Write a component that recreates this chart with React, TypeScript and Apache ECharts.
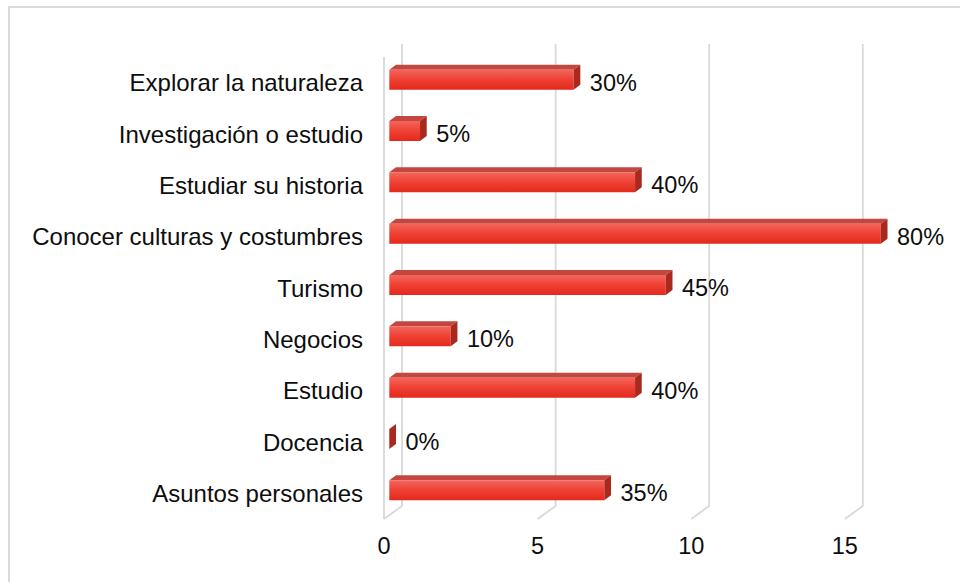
import React, { useEffect, useRef } from "react";
import * as echarts from "echarts";

const categories = [
  "Explorar la naturaleza",
  "Investigación o estudio",
  "Estudiar su historia",
  "Conocer culturas y costumbres",
  "Turismo",
  "Negocios",
  "Estudio",
  "Docencia",
  "Asuntos personales",
];
const values = [6, 1, 8, 16, 9, 2, 8, 0, 7];
const percentLabels = ["30%", "5%", "40%", "80%", "45%", "10%", "40%", "0%", "35%"];
const xTicks = [0, 5, 10, 15];

const FONT = "'Liberation Sans', Arial, sans-serif";

export default function App() {
  const ref = useRef<HTMLDivElement>(null);

  useEffect(() => {
    if (!ref.current) return;
    const chart = echarts.init(ref.current, undefined, { renderer: "svg" });

    // 3D geometry offsets (pixels)
    const backDx = 18;
    const backDy = -13;
    const barDx = 5.3;
    const barDy = -3;
    const barHalf = 10;
    const depthX = 6.7;
    const depthY = -5;

    const frontGradient = new echarts.graphic.LinearGradient(0, 0, 0, 1, [
      { offset: 0, color: "#f4665c" },
      { offset: 0.5, color: "#ef4034" },
      { offset: 1, color: "#e3291c" },
    ]);

    const option: any = {
      animation: false,
      backgroundColor: "#ffffff",
      graphic: [
        {
          type: "rect",
          shape: { x: 9, y: 7, width: 1000, height: 620 },
          style: { fill: "none", stroke: "#d9d9d9", lineWidth: 2 },
          silent: true,
          z: -10,
        },
      ],
      grid: { left: 384, top: 57, bottom: 63, right: 0, containLabel: false },
      xAxis: {
        type: "value",
        min: 0,
        max: 18.75,
        interval: 5,
        axisLine: { show: false },
        axisTick: { show: false },
        splitLine: { show: false },
        axisLabel: {
          margin: 15,
          showMaxLabel: false,
          fontSize: 23.5,
          fontFamily: FONT,
          color: "#0d0d0d",
        },
      },
      yAxis: {
        type: "category",
        inverse: true,
        data: categories,
        axisLine: { show: false },
        axisTick: { show: false },
        splitLine: { show: false },
        axisLabel: {
          margin: 21,
          fontSize: 24,
          fontFamily: FONT,
          color: "#0d0d0d",
        },
      },
      series: [
        {
          type: "custom",
          silent: true,
          clip: false,
          z: 1,
          data: xTicks.map((v) => [v, 0]),
          encode: { x: 0, y: 1 },
          renderItem: (params: any, api: any) => {
            const cs = params.coordSys;
            const v = api.value(0);
            const x = api.coord([v, 0])[0];
            const bottom = cs.y + cs.height;
            const top = cs.y;
            const children: any[] = [
              {
                type: "polyline",
                shape: {
                  points: [
                    [x, bottom],
                    [x + backDx, bottom + backDy],
                    [x + backDx, top + backDy],
                  ],
                },
                style: { stroke: "#d9d9d9", lineWidth: 1.8, fill: "none" },
              },
            ];
            if (v === 0) {
              children.push({
                type: "line",
                shape: { x1: x, y1: top, x2: x, y2: bottom },
                style: { stroke: "#d9d9d9", lineWidth: 1.8 },
              });
            }
            return { type: "group", children };
          },
        },
        {
          type: "custom",
          clip: false,
          z: 2,
          data: values.map((v, i) => [v, i]),
          encode: { x: 0, y: 1 },
          renderItem: (params: any, api: any) => {
            const v = api.value(0);
            const i = api.value(1);
            const p0 = api.coord([0, i]);
            const p1 = api.coord([v, i]);
            const cy = p0[1];
            const fx0 = p0[0] + barDx;
            const fx1 = p1[0] + barDx;
            const fy0 = cy + barDy - barHalf;
            const fy1 = cy + barDy + barHalf;
            const children: any[] = [];
            if (fx1 > fx0) {
              children.push({
                type: "polygon",
                shape: {
                  points: [
                    [fx0, fy0],
                    [fx1, fy0],
                    [fx1 + depthX, fy0 + depthY],
                    [fx0 + depthX, fy0 + depthY],
                  ],
                },
                style: { fill: "#c4473f" },
              });
              children.push({
                type: "rect",
                shape: { x: fx0, y: fy0, width: fx1 - fx0, height: fy1 - fy0 },
                style: { fill: frontGradient },
              });
            }
            children.push({
              type: "polygon",
              shape: {
                points: [
                  [fx1, fy0],
                  [fx1 + depthX, fy0 + depthY],
                  [fx1 + depthX, fy1 + depthY],
                  [fx1, fy1],
                ],
              },
              style: { fill: "#a9291f" },
            });
            children.push({
              type: "text",
              style: {
                text: percentLabels[params.dataIndex],
                x: fx1 + depthX + 9.5,
                y: cy,
                align: "left",
                verticalAlign: "middle",
                fill: "#0d0d0d",
                fontSize: 23.5,
                fontFamily: FONT,
              },
            });
            return { type: "group", children };
          },
        },
      ],
    };

    chart.setOption(option);
    return () => {
      chart.dispose();
    };
  }, []);

  return (
    <div
      style={{
        position: "fixed",
        left: 0,
        top: 0,
        width: 960,
        height: 582,
        overflow: "hidden",
        background: "#ffffff",
      }}
    >
      <div ref={ref} style={{ width: 960, height: 582 }} />
    </div>
  );
}
